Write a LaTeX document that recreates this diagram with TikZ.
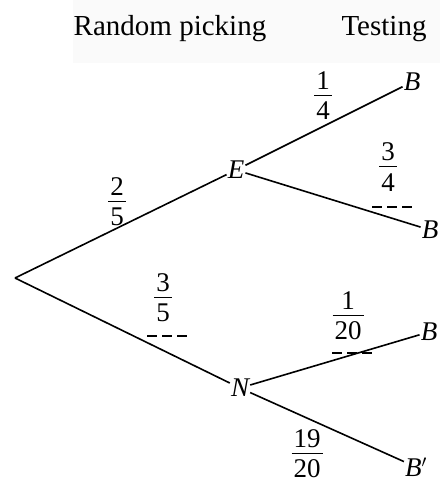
\documentclass[tikz,border=0pt]{standalone}
\usepackage{fontspec}
\setmainfont{Liberation Serif}
\newcommand\myfr[2]{\vbox{\halign{\hfil\kern2pt##\kern2pt\hfil\cr #1\cr\noalign{\kern5pt\hrule height 1.1pt\kern6pt}#2\cr}}}
\begin{document}
\begin{tikzpicture}[x=1pt,y=-1pt,
  lab/.style={inner sep=1pt,font=\fontsize{27}{30}\selectfont\itshape},
  frac/.style={inner sep=0pt,font=\fontsize{27}{30}\selectfont},
  head/.style={inner sep=0pt,anchor=base,font=\fontsize{29}{34}\selectfont},
  branch/.style={line width=1.6pt},
  dashmark/.style={line width=1.6pt,dash pattern=on 10pt off 5pt}]
\useasboundingbox (0,0) rectangle (440,481);
\fill[gray!4] (73,0) rectangle (440,63);
\node[head] (h1) at (170,36) {Random picking};
\node[head] (h2) at (384,36) {Testing};
\coordinate (O) at (15,278);
\node[lab] (E) at (236,170) {E};
\node[lab] (N) at (240,388) {N};
\node[lab] (B1) at (412,82) {B};
\node[lab] (B2) at (430,230) {B};
\node[lab] (B3) at (429,332) {B};
\node[lab] (B4) at (416,467) {B$'$};
\draw[branch] (O) -- (E);
\draw[branch] (O) -- (N);
\draw[branch] (E) -- (B1);
\draw[branch] (E) -- (B2);
\draw[branch] (N) -- (B3);
\draw[branch] (N) -- (B4);
\node[frac] (f1) at (323,96) {\myfr{1}{4}};
\node[frac] (f2) at (388,167) {\myfr{3}{4}};
\node[frac] (f3) at (117,202) {\myfr{2}{5}};
\node[frac] (f4) at (163,298) {\myfr{3}{5}};
\node[frac] (f5) at (348,316) {\myfr{1}{20}};
\node[frac] (f6) at (307,454) {\myfr{19}{20}};
\draw[dashmark] (372,207) -- (412,207);
\draw[dashmark] (147,336) -- (187,336);
\draw[dashmark] (332,353) -- (372,353);
\end{tikzpicture}
\end{document}
